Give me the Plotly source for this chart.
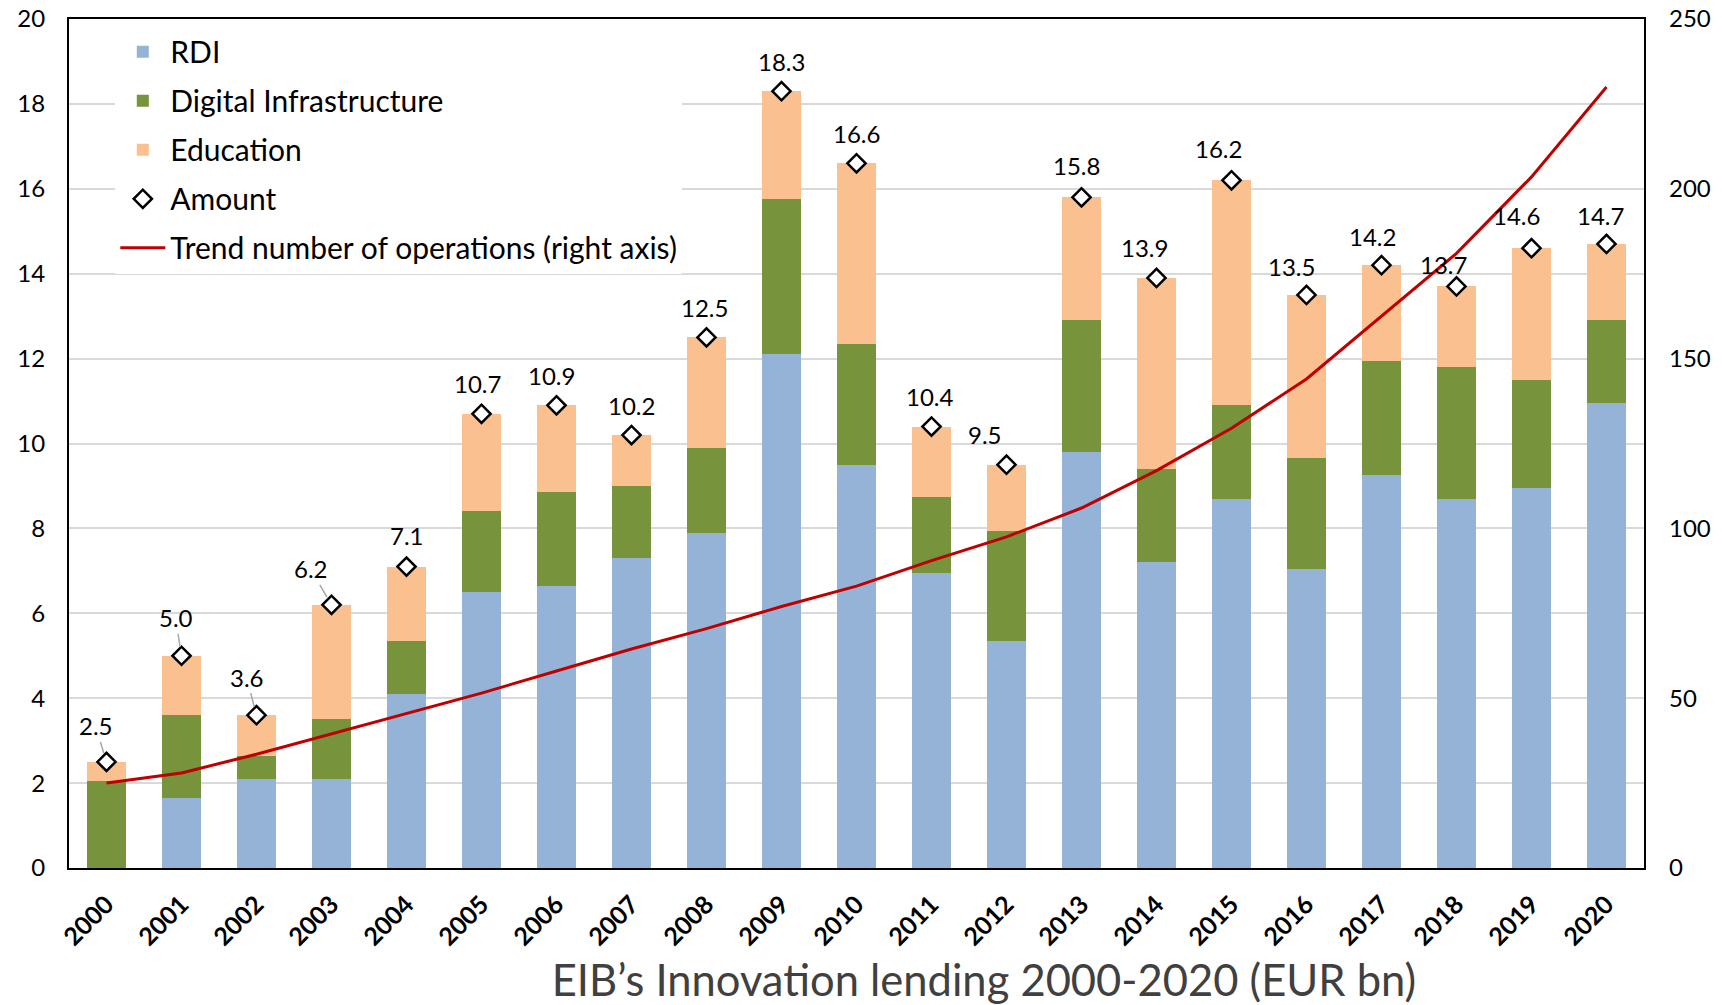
import plotly.graph_objects as go

# ---------------- data ----------------
years = [2000, 2001, 2002, 2003, 2004, 2005, 2006, 2007, 2008, 2009, 2010,
         2011, 2012, 2013, 2014, 2015, 2016, 2017, 2018, 2019, 2020]
rdi = [0.0, 1.65, 2.1, 2.1, 4.1, 6.5, 6.65, 7.3, 7.9, 12.1, 9.5,
       6.95, 5.35, 9.8, 7.2, 8.7, 7.05, 9.25, 8.7, 8.95, 10.95]
digital = [2.05, 1.95, 0.55, 1.4, 1.25, 1.9, 2.2, 1.7, 2.0, 3.65, 2.85,
           1.8, 2.6, 3.1, 2.2, 2.2, 2.6, 2.7, 3.1, 2.55, 1.95]
education = [0.45, 1.4, 0.95, 2.7, 1.75, 2.3, 2.05, 1.2, 2.6, 2.55, 4.25,
             1.65, 1.55, 2.9, 4.5, 5.3, 3.85, 2.25, 1.9, 3.1, 1.8]
amount = [2.5, 5.0, 3.6, 6.2, 7.1, 10.7, 10.9, 10.2, 12.5, 18.3, 16.6,
          10.4, 9.5, 15.8, 13.9, 16.2, 13.5, 14.2, 13.7, 14.6, 14.7]
trend_ops = [25, 28, 33.5, 39.5, 45.5, 51.5, 58, 64.5, 70.5, 77, 83,
             90.5, 97.5, 106, 117, 129.5, 144, 162.5, 181, 203.5, 230]
left_ticks = [0, 2, 4, 6, 8, 10, 12, 14, 16, 18, 20]
right_ticks = [0, 50, 100, 150, 200, 250]

# ---------------- style ----------------
C_RDI = "#95B3D7"
C_DIG = "#77933C"
C_EDU = "#FAC090"
C_TREND = "#C00000"
LABEL_FONT = "Lato, Carlito, Calibri, sans-serif"
LEGEND_FONT = "Liberation Sans Narrow, Arial Narrow, Lato, sans-serif"

# label offsets (pixels) and whether a leader line is drawn
label_dx = [-11, -6, -10, -21, 0, -4, -5, 0, -2, 0, 0, -2, -22, -5, -12, -13, -15, -9, -13, -15, -6]
label_dy = [-36, -38, -38, -36, -31, -30, -30, -30, -30, -30, -30, -30, -30, -32, -30, -32, -28, -29, -22, -33, -28]
leader = [True, True, True, True] + [False] * 17

fig = go.Figure()

fig.add_trace(go.Bar(x=years, y=rdi, name="RDI", marker=dict(color=C_RDI, line=dict(width=0)),
                     legendgroup="a", legendrank=1))
fig.add_trace(go.Bar(x=years, y=digital, name="Digital Infrastructure",
                     marker=dict(color=C_DIG, line=dict(width=0)), legendgroup="b", legendrank=2))
fig.add_trace(go.Bar(x=years, y=education, name="Education",
                     marker=dict(color=C_EDU, line=dict(width=0)), legendgroup="c", legendrank=3))
fig.add_trace(go.Scatter(x=years, y=trend_ops, name="Trend number of operations (right axis)",
                         mode="lines", line=dict(color=C_TREND, width=3), yaxis="y2",
                         legendgroup="e", legendrank=5))
fig.add_trace(go.Scatter(x=years, y=amount, name="Amount", mode="markers",
                         marker=dict(symbol="diamond", size=14, color="white",
                                     line=dict(color="black", width=2.5)),
                         legendgroup="d", legendrank=4))

for i, (yr, v) in enumerate(zip(years, amount)):
    fig.add_annotation(x=yr, y=v, xref="x", yref="y", text=f"{v:.1f}",
                       showarrow=True, arrowhead=0, arrowwidth=1.5,
                       arrowcolor="#A6A6A6" if leader[i] else "rgba(0,0,0,0)",
                       standoff=9, ax=label_dx[i], ay=label_dy[i],
                       font=dict(family=LABEL_FONT, size=24, color="black"))

fig.update_layout(
    width=1722, height=1005,
    margin=dict(l=69, r=78, t=19, b=137),
    paper_bgcolor="white", plot_bgcolor="white",
    barmode="stack", bargap=0.49,
    showlegend=True,
    legend=dict(x=0.0294, y=0.992, xanchor="left", yanchor="top",
                bgcolor="white", borderwidth=0,
                font=dict(family=LEGEND_FONT, size=30, color="black"),
                traceorder="grouped", tracegroupgap=7, itemwidth=45),
    title=dict(text="EIB’s Innovation lending 2000-2020 (EUR bn)",
               x=0.5714, xref="container", xanchor="center",
               y=0.0239, yref="container", yanchor="middle",
               font=dict(family=LABEL_FONT, size=43.5, color="#404040")),
    xaxis=dict(range=[1999.5, 2020.5], tickvals=years, tickangle=-45, showgrid=False,
               showline=True, linecolor="black", linewidth=2, mirror=True,
               ticks="", ticklabelstandoff=10, automargin=False, zeroline=False,
               ticklabeloverflow="allow",
               tickfont=dict(family=LABEL_FONT, size=25, color="black", weight="bold")),
    yaxis=dict(range=[0, 20], tickvals=left_ticks, showgrid=True,
               gridcolor="#D9D9D9", gridwidth=2, automargin=False,
               showline=True, linecolor="black", linewidth=2, mirror=True,
               ticks="", ticklabelstandoff=17, zeroline=False,
               ticklabeloverflow="allow",
               tickfont=dict(family=LABEL_FONT, size=24, color="black")),
    yaxis2=dict(range=[0, 250], tickvals=right_ticks, overlaying="y", side="right",
                showgrid=False, showline=False, zeroline=False, ticks="",
                ticklabelstandoff=24, automargin=False,
                ticklabeloverflow="allow",
                tickfont=dict(family=LABEL_FONT, size=24, color="black")),
)

fig.write_html("out.html", config={"displayModeBar": False},
               post_script="document.body.style.margin='0';")
